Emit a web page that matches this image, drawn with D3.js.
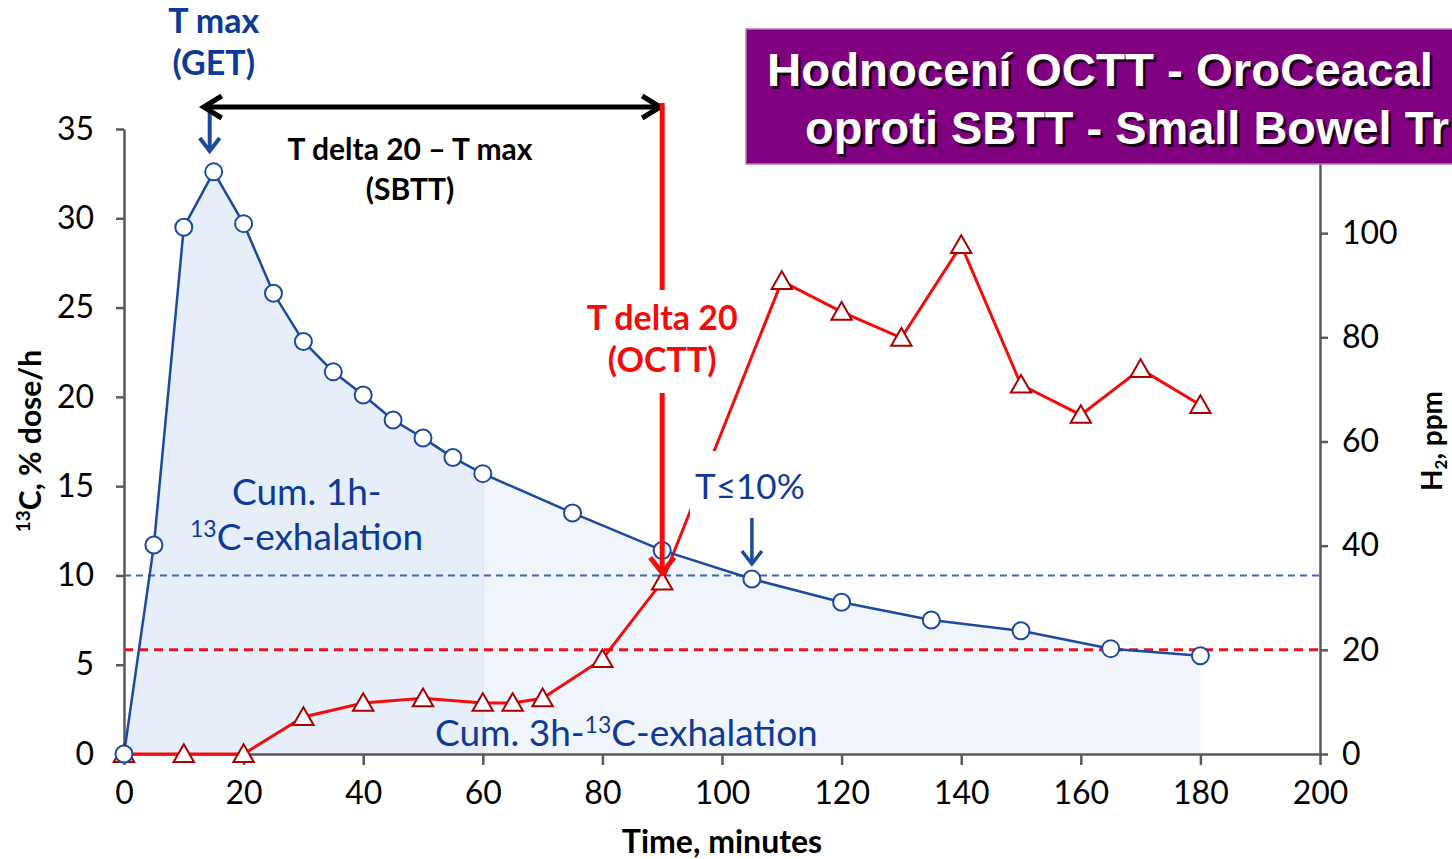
<!DOCTYPE html>
<html>
<head>
<meta charset="utf-8">
<script src="https://cdn.jsdelivr.net/npm/d3@7"></script>
<style>
  body { margin: 0; background: #fff; overflow: hidden; }
  svg { display: block; font-family: Lato, "Open Sans", sans-serif; }
</style>
</head>
<body>
<svg id="chart" width="1452" height="859"></svg>
<script>
// 13C breath test, % dose/h (left axis)
const timesC = [0, 5, 10, 15, 20, 25, 30, 35, 40, 45, 50, 55, 60, 75, 90, 105, 120, 135, 150, 165, 180];
const c13 = [0, 11.7, 29.5, 32.6, 29.7, 25.8, 23.1, 21.4, 20.1, 18.7, 17.7, 16.6, 15.7, 13.5, 11.4, 9.8, 8.5, 7.5, 6.9, 5.9, 5.5];

// H2 breath test, ppm (right axis)
const timesH = [0, 10, 20, 30, 40, 50, 60, 65, 70, 80, 90, 110, 120, 130, 140, 150, 160, 170, 180];
const h2 = [0, 0, 0, 7.1, 9.8, 10.7, 9.8, 9.8, 10.7, 18.2, 33.1, 90.8, 84.9, 79.9, 97.7, 70.9, 65.1, 73.9, 67.0];

const xTicks = [0, 20, 40, 60, 80, 100, 120, 140, 160, 180, 200];
const leftTicks = [0, 5, 10, 15, 20, 25, 30, 35];
const rightTicks = [0, 20, 40, 60, 80, 100];

const c13Limit = 10;   // T<=10% line
const h2Limit = 20;    // delta 20 ppm line
const tMax = 15, tDelta20 = 90, tTen = 105, oneHour = 60;

// title box text, cut off at the right edge like the slide
const titleLines = ["Hodnocen\u00ed OCTT - OroCeacal", "oproti SBTT - Small Bowel Tr"];

const svg = d3.select("#chart");
const m = { l: 124, r: 1320, t: 129, b: 754 };

const x = d3.scaleLinear().domain([0, 200]).range([m.l, m.r]);
const yL = d3.scaleLinear().domain([0, 35]).range([m.b, m.t]);
const yR = d3.scaleLinear().domain([0, 120]).range([m.b, m.t]);

const blue = "#1c4a9e", textBlue = "#0d3a96", red = "#f20d0d", darkRed = "#a80000", axisGray = "#595959";

const C = timesC.map((t, i) => ({ t, v: c13[i] }));
const Hd = timesH.map((t, i) => ({ t, v: h2[i] }));

// cumulative exhalation areas
const area = d3.area().x(d => x(d.t)).y0(yL(0)).y1(d => yL(d.v));
svg.append("path").datum(C.filter(d => d.t >= oneHour))
  .attr("d", area).attr("fill", "#f0f5fb");
svg.append("path").datum(C.filter(d => d.t <= oneHour))
  .attr("d", area).attr("fill", "#e6eef9");
svg.append("line")
  .attr("x1", x(oneHour)).attr("x2", x(oneHour))
  .attr("y1", yL(0)).attr("y2", yL(15.7))
  .attr("stroke", "#e0e9f5").attr("stroke-width", 2);

// threshold lines
svg.append("line")
  .attr("x1", m.l).attr("x2", m.r).attr("y1", yL(c13Limit)).attr("y2", yL(c13Limit))
  .attr("stroke", "#3b68b8").attr("stroke-width", 2).attr("stroke-dasharray", "7,5");
svg.append("line")
  .attr("x1", m.l).attr("x2", m.r).attr("y1", yR(h2Limit)).attr("y2", yR(h2Limit))
  .attr("stroke", "#e8141c").attr("stroke-width", 3).attr("stroke-dasharray", "9,6");

// axes
const xAxis = svg.append("g").attr("transform", `translate(0,${m.b})`)
  .call(d3.axisBottom(x).tickValues(xTicks).tickSize(11).tickPadding(16).tickSizeOuter(0));
const lAxis = svg.append("g").attr("transform", `translate(${m.l},0)`)
  .call(d3.axisLeft(yL).tickValues(leftTicks).tickSize(8).tickPadding(22).tickSizeOuter(0));
const rAxis = svg.append("g").attr("transform", `translate(${m.r},0)`)
  .call(d3.axisRight(yR).tickValues(rightTicks).tickSize(8).tickPadding(14).tickSizeOuter(0));
[xAxis, lAxis, rAxis].forEach(g => {
  g.select(".domain").attr("stroke", axisGray).attr("stroke-width", 2.5);
  g.selectAll(".tick line").attr("stroke", axisGray).attr("stroke-width", 2.5);
  g.selectAll(".tick text").attr("fill", "#000").attr("font-size", 32)
    .attr("font-family", "Lato, sans-serif");
});

// red H2 line (interrupted by the T<=10% label later)
svg.append("path").datum(Hd)
  .attr("d", d3.line().x(d => x(d.t)).y(d => yR(d.v)))
  .attr("fill", "none").attr("stroke", red).attr("stroke-width", 3);

// blue 13C line
svg.append("path").datum(C)
  .attr("d", d3.line().x(d => x(d.t)).y(d => yL(d.v)))
  .attr("fill", "none").attr("stroke", blue).attr("stroke-width", 2.5);

svg.append("g").selectAll("path").data(Hd).join("path")
  .attr("d", d3.symbol(d3.symbolTriangle, 180))
  .attr("transform", d => `translate(${x(d.t)},${yR(d.v) + 2})`)
  .attr("fill", "#fff").attr("stroke", darkRed).attr("stroke-width", 2);

svg.append("g").selectAll("circle").data(C).join("circle")
  .attr("cx", d => x(d.t)).attr("cy", d => yL(d.v)).attr("r", 8.5)
  .attr("fill", "#fff").attr("stroke", blue).attr("stroke-width", 2);

// helpers
const arrowDown = (g, xx, y1, y2, col, w, hw) => {
  g.append("line").attr("x1", xx).attr("x2", xx).attr("y1", y1).attr("y2", y2)
    .attr("stroke", col).attr("stroke-width", w);
  g.append("path").attr("d", `M${xx - hw},${y2 - hw * 1.3} L${xx},${y2} L${xx + hw},${y2 - hw * 1.3}`)
    .attr("fill", "none").attr("stroke", col).attr("stroke-width", w);
};
const label = (txt, xx, yy, opts = {}) => svg.append("text")
  .attr("x", xx).attr("y", yy)
  .attr("text-anchor", opts.anchor || "middle")
  .attr("font-size", opts.size || 28)
  .attr("font-weight", opts.weight || "normal")
  .attr("fill", opts.fill || "#000")
  .text(txt);

const ann = svg.append("g");

// T max (GET)
label("T max", x(tMax), 33, { size: 34, weight: "bold", fill: textBlue });
label("(GET)", x(tMax), 75, { size: 34, weight: "bold", fill: textBlue });
arrowDown(ann, x(tMax) - 4, 110, 151, blue, 4, 10);

// SBTT double arrow
const ay = 107, ax1 = x(tMax) - 10, ax2 = x(tDelta20) - 2;
ann.append("line").attr("x1", ax1).attr("x2", ax2).attr("y1", ay).attr("y2", ay)
  .attr("stroke", "#000").attr("stroke-width", 5);
ann.append("path").attr("d", `M${ax1 + 18},${ay - 11} L${ax1},${ay} L${ax1 + 18},${ay + 11}`)
  .attr("fill", "none").attr("stroke", "#000").attr("stroke-width", 5);
ann.append("path").attr("d", `M${ax2 - 18},${ay - 11} L${ax2},${ay} L${ax2 - 18},${ay + 11}`)
  .attr("fill", "none").attr("stroke", "#000").attr("stroke-width", 5);
label("T delta 20 \u2013 T max", 410, 160, { size: 30, weight: "bold" });
label("(SBTT)", 410, 200, { size: 30, weight: "bold" });

// T delta 20 (OCTT)
ann.append("line").attr("x1", x(tDelta20)).attr("x2", x(tDelta20)).attr("y1", 103).attr("y2", 290)
  .attr("stroke", red).attr("stroke-width", 5);
label("T delta 20", x(tDelta20), 330, { size: 34, weight: "bold", fill: red });
label("(OCTT)", x(tDelta20), 372, { size: 34, weight: "bold", fill: red });
arrowDown(ann, x(tDelta20), 393, 573, red, 5, 12);

// T<=10% label with white backing (breaks the red line)
svg.append("rect").attr("x", 690).attr("y", 451).attr("width", 120).attr("height", 66).attr("fill", "#fff");
label("T\u226410%", x(tTen) - 2, 499, { size: 35, fill: textBlue });
arrowDown(svg, x(tTen), 518, 564, blue, 3.5, 10);

// cumulative labels
const cum1 = svg.append("text").attr("font-size", 37).attr("fill", textBlue);
cum1.append("tspan").attr("x", 232).attr("y", 505).text("Cum. 1h-");
cum1.append("tspan").attr("x", 190).attr("y", 550).attr("font-size", 23).attr("dy", -13).text("13");
cum1.append("tspan").attr("dy", 13).text("C-exhalation");

const cum3 = svg.append("text").attr("x", 435).attr("y", 746).attr("font-size", 37).attr("fill", textBlue);
cum3.append("tspan").text("Cum. 3h-");
cum3.append("tspan").attr("font-size", 23).attr("dy", -13).text("13");
cum3.append("tspan").attr("dy", 13).text("C-exhalation");

// axis titles
label("Time, minutes", 722, 853, { size: 32, weight: "bold" });

const lt = svg.append("text").attr("transform", `translate(41,441) rotate(-90)`)
  .attr("text-anchor", "middle").attr("font-size", 30).attr("font-weight", "bold");
lt.append("tspan").attr("font-size", 19).attr("dy", -11).text("13");
lt.append("tspan").attr("dy", 11).text("C, % dose/h");

const rt = svg.append("text").attr("transform", `translate(1442,441) rotate(-90)`)
  .attr("text-anchor", "middle").attr("font-size", 28).attr("font-weight", "bold");
rt.append("tspan").text("H");
rt.append("tspan").attr("font-size", 17).attr("dy", 5).text("2");
rt.append("tspan").attr("dy", -5).text(", ppm");

// purple title box
const tb = svg.append("g");
tb.append("rect").attr("x", 746).attr("y", 29).attr("width", 760).attr("height", 135)
  .attr("fill", "#800080").attr("stroke", "#b67ab6").attr("stroke-width", 1.5);
const titlePos = [{ x: 767, y: 86, len: 666 }, { x: 805, y: 144, len: 644 }];
titleLines.forEach((t, i) => {
  const p = titlePos[i];
  [["#1a001a", 2.5], ["#fff", 0]].forEach(([col, off]) => {
    tb.append("text").attr("x", p.x + off).attr("y", p.y + off)
      .attr("font-family", "'Liberation Sans', Arial, sans-serif")
      .attr("font-size", 47).attr("font-weight", "bold").attr("fill", col)
      .attr("textLength", p.len).attr("lengthAdjust", "spacingAndGlyphs")
      .text(t);
  });
});
</script>
</body>
</html>
